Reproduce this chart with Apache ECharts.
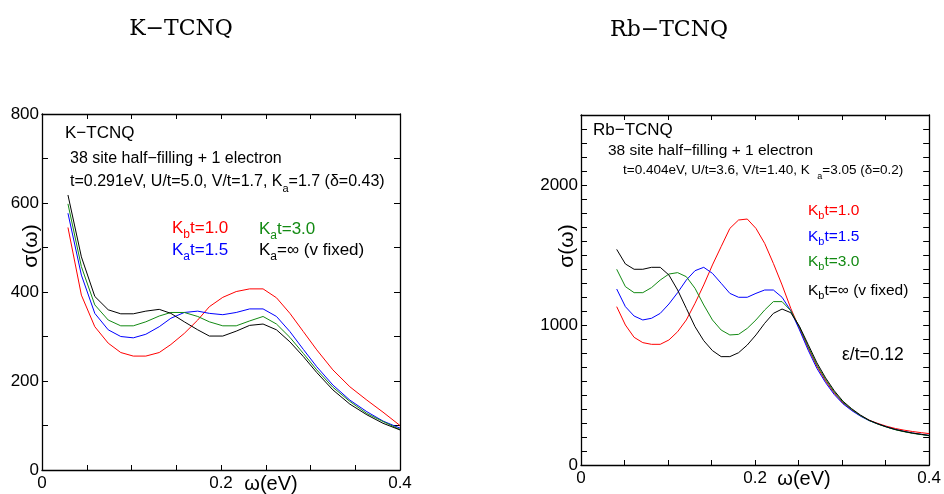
<!DOCTYPE html>
<html>
<head>
<meta charset="utf-8">
<script src="https://cdn.jsdelivr.net/npm/echarts@6/dist/echarts.min.js"></script>
<style>
html,body{margin:0;padding:0;background:#fff;}
#c{width:944px;height:494px;}
</style>
</head>
<body>
<div id="c"></div>
<script>
// ---------- K-TCNQ data ----------
const xK = [0.029,0.044,0.059,0.074,0.088,0.102,0.116,0.131,0.144,0.159,0.174,0.187,0.202,0.217,0.232,0.247,0.262,0.277,0.292,0.307,0.325,0.344,0.363,0.381,0.400];
const kRed   = [545,393,322,285,264,256,256,264,282,307,337,367,388,401,407,407,387,352,311,270,225,187,157,130,100];
const kBlue  = [577,438,352,315,300,297,305,322,341,354,357,352,349,354,362,362,345,311,271,232,191,157,131,110,94];
const kGreen = [598,457,371,337,324,324,333,346,354,354,345,333,324,324,335,345,328,298,262,225,186,154,127,109,91];
const kBlack = [618,479,390,360,351,351,357,361,352,333,315,301,301,312,325,328,315,288,255,219,180,148,124,105,90];

// ---------- Rb-TCNQ data ----------
const xRb = [0.041,0.051,0.061,0.071,0.081,0.091,0.101,0.111,0.121,0.131,0.141,0.151,0.161,0.171,0.181,0.191,0.201,0.211,0.221,0.231,0.241,0.251,0.261,0.271,0.281,0.291,0.301,0.311,0.321,0.331,0.341,0.351,0.361,0.371,0.381,0.391,0.400];
const rbRed   = [1131,1000,912,874,862,862,893,952,1036,1155,1286,1429,1560,1690,1750,1757,1690,1583,1440,1286,1119,975,835,705,600,512,442,393,352,320,297,277,261,249,239,231,224];
const rbBlue  = [1257,1131,1064,1036,1048,1083,1150,1231,1321,1388,1412,1369,1298,1226,1198,1198,1226,1250,1250,1198,1102,965,820,690,588,503,437,389,349,317,293,272,254,240,228,219,211];
const rbGreen = [1398,1274,1231,1231,1267,1321,1364,1374,1345,1262,1143,1036,964,929,933,976,1036,1107,1167,1167,1102,985,845,715,610,520,448,397,353,318,292,271,252,238,226,217,209];
const rbBlack = [1540,1436,1398,1398,1412,1412,1357,1250,1119,988,888,817,774,774,802,857,929,1012,1083,1114,1088,990,860,730,622,530,455,402,357,320,294,272,254,240,228,219,211];

// ---------- tick labels ----------
const xTickLabels = ['0','0.2','0.4'];
const kYTickLabels = ['0','200','400','600','800'];
const rbYTickLabels = ['0','1000','2000'];

const RED='#ff0000', BLUE='#0000ff', GREEN='#138a13', BLACK='#000000';
const SANS='Liberation Sans, Arial, sans-serif';

function pairs(xs, ys){ return xs.map((x,i)=>[x, ys[i]]); }
function fmtX(v){ const s=String(+(+v).toFixed(3)); return xTickLabels.includes(s)?s:''; }
function fmtY(list){ return v => { const s=String(Math.round(v)); return list.includes(s)?s:''; }; }

function xAx(gi, pos, show){
  return {type:'value', gridIndex:gi, position:pos, min:0, max:0.4, interval:0.05,
    axisLine:{show:true, onZero:false, lineStyle:{color:'#000', width:1.3}},
    axisTick:{show:true, inside:true, length:5, lineStyle:{color:'#000', width:1}},
    splitLine:{show:false},
    axisLabel:{show:show, formatter:fmtX, margin:5, color:'#000', fontSize:17, fontFamily:SANS}};
}
function yAx(gi, pos, show, max, list){
  return {type:'value', gridIndex:gi, position:pos, min:0, max:max, interval:100,
    axisLine:{show:true, onZero:false, lineStyle:{color:'#000', width:1.3}},
    axisTick:{show:true, inside:true, length:6, lineStyle:{color:'#000', width:1}},
    splitLine:{show:false},
    axisLabel:{show:show, formatter:fmtY(list), margin:3, color:'#000', fontSize:17, fontFamily:SANS}};
}
function line(xi, yi, xs, ys, color){
  return {type:'line', xAxisIndex:xi, yAxisIndex:yi, data:pairs(xs,ys), showSymbol:false,
    symbol:'none', lineStyle:{color:color, width:1}, itemStyle:{color:color}, silent:true};
}

function txt(x, y, text, size, color, opts){
  opts = opts || {};
  return {type:'text', x:x, y:y, z:100, rotation:opts.rotation||0,
    style:{text:text, fontSize:size, fontFamily:opts.family||SANS, fill:color,
      textAlign:opts.align||'left', textVerticalAlign:'middle'}};
}
// segs: array of [string, isSub]
function rtxt(x, y, segs, size, color, subSize, drop){
  subSize = subSize || Math.round(size*0.68);
  drop = drop==null ? 4 : drop;
  const text = segs.map(s => (s[1]?'{s|':'{n|') + s[0] + '}').join('');
  return {type:'text', x:x, y:y + drop/2, z:100,
    style:{text:text, fontSize:size, fontFamily:SANS, fill:color, textVerticalAlign:'middle',
      rich:{
        n:{fontSize:size, fontFamily:SANS, fill:color, verticalAlign:'top', lineHeight:size},
        s:{fontSize:subSize, fontFamily:SANS, fill:color, verticalAlign:'bottom', lineHeight:size+drop}
      }}};
}

const chart = echarts.init(document.getElementById('c'), null, {renderer:'canvas'});
chart.setOption({
  animation:false,
  backgroundColor:'#fff',
  grid:[
    {left:42, top:114, width:358, height:356},
    {left:581, top:115, width:350, height:350}
  ],
  xAxis:[xAx(0,'bottom',true), xAx(0,'top',false), xAx(1,'bottom',true), xAx(1,'top',false)],
  yAxis:[yAx(0,'left',true,800,kYTickLabels), yAx(0,'right',false,800,kYTickLabels),
         yAx(1,'left',true,2500,rbYTickLabels), yAx(1,'right',false,2500,rbYTickLabels)],
  series:[
    line(0,0,xK,kRed,RED), line(0,0,xK,kBlue,BLUE), line(0,0,xK,kGreen,GREEN), line(0,0,xK,kBlack,BLACK),
    line(2,2,xRb,rbRed,RED), line(2,2,xRb,rbBlue,BLUE), line(2,2,xRb,rbGreen,GREEN), line(2,2,xRb,rbBlack,BLACK)
  ],
  graphic:[
    // top titles
    txt(181, 29, 'K\u2212TCNQ', 22, '#000', {family:'DejaVu Serif, serif', align:'center'}),
    txt(669, 30, 'Rb\u2212TCNQ', 22, '#000', {family:'DejaVu Serif, serif', align:'center'}),
    // axis names
    txt(271, 484, '\u03c9(eV)', 20, '#000', {align:'center'}),
    txt(804, 479, '\u03c9(eV)', 20, '#000', {align:'center'}),
    txt(31, 246, '\u03c3(\u03c9)', 21, '#000', {align:'center', rotation:Math.PI/2}),
    txt(567, 246, '\u03c3(\u03c9)', 21, '#000', {align:'center', rotation:Math.PI/2}),
    // K-TCNQ annotations
    txt(65, 133, 'K\u2212TCNQ', 17, '#000'),
    txt(70, 159, '38 site half\u2212filling + 1 electron', 16, '#000'),
    rtxt(70, 182, [['t=0.291eV, U/t=5.0, V/t=1.7, K'],['a',1],['=1.7 (\u03b4=0.43)']], 16, '#000'),
    rtxt(172, 228, [['K'],['b',1],['t=1.0']], 17, RED),
    rtxt(259, 229, [['K'],['a',1],['t=3.0']], 17, GREEN),
    rtxt(172, 250, [['K'],['a',1],['t=1.5']], 17, BLUE),
    rtxt(259, 250, [['K'],['a',1],['=\u221e (v fixed)']], 17, BLACK),
    // Rb-TCNQ annotations
    txt(593, 130, 'Rb\u2212TCNQ', 17, '#000'),
    txt(608, 151, '38 site half\u2212filling + 1 electron', 15.5, '#000'),
    rtxt(623, 170, [['t=0.404eV, U/t=3.6, V/t=1.40, K  '],['a',1],['=3.05 (\u03b4=0.2)']], 13.5, '#000'),
    rtxt(808, 210, [['K'],['b',1],['t=1.0']], 15.5, RED),
    rtxt(808, 236, [['K'],['b',1],['t=1.5']], 15.5, BLUE),
    rtxt(808, 261, [['K'],['b',1],['t=3.0']], 15.5, GREEN),
    rtxt(808, 290, [['K'],['b',1],['t=\u221e (v fixed)']], 15.5, BLACK),
    txt(842, 355, '\u03b5/t=0.12', 17.5, '#000')
  ]
});
</script>
</body>
</html>
